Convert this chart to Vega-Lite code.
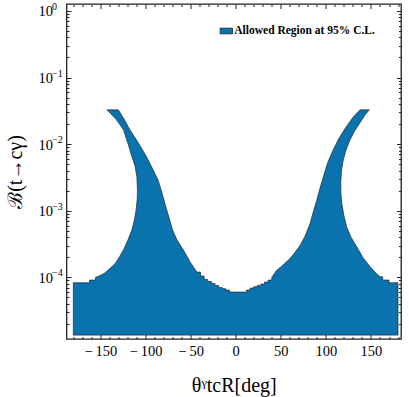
{
  "$schema": "https://vega.github.io/schema/vega-lite/v6.json",
  "width": 334.5,
  "height": 335,
  "autosize": "none",
  "padding": {"left": 66.5, "top": 4, "right": 8, "bottom": 58},
  "background": "white",
  "config": {
    "view": {"stroke": "#222222", "strokeWidth": 1.3},
    "axis": {
      "labelFont": "Liberation Serif",
      "titleFont": "Liberation Serif",
      "labelColor": "black",
      "titleColor": "black",
      "tickColor": "#222222",
      "tickWidth": 1,
      "domain": false,
      "grid": false,
      "titleFontWeight": "normal"
    }
  },
  "data": {
    "values": [
      {"i": 0, "x": -180, "b": 1.361e-5},
      {"i": 1, "x": -180, "b": 8.318e-5},
      {"i": 2, "x": -162, "b": 8.318e-5},
      {"i": 3, "x": -162, "b": 9.12e-5},
      {"i": 4, "x": -155.5, "b": 9.12e-5},
      {"i": 5, "x": -155.5, "b": 1e-4},
      {"i": 6, "x": -150, "b": 1.0715e-4},
      {"i": 7, "x": -144.6, "b": 1.175e-4},
      {"i": 8, "x": -139, "b": 1.38e-4},
      {"i": 9, "x": -133.6, "b": 1.622e-4},
      {"i": 10, "x": -128.8, "b": 2.042e-4},
      {"i": 11, "x": -124.4, "b": 2.588e-4},
      {"i": 12, "x": -119.5, "b": 3.631e-4},
      {"i": 13, "x": -115.1, "b": 5.164e-4},
      {"i": 14, "x": -112.2, "b": 7.413e-4},
      {"i": 15, "x": -110.4, "b": 1.033e-3},
      {"i": 16, "x": -109.2, "b": 1.479e-3},
      {"i": 17, "x": -108.9, "b": 2.061e-3},
      {"i": 18, "x": -109.6, "b": 3.266e-3},
      {"i": 19, "x": -111.6, "b": 4.677e-3},
      {"i": 20, "x": -115.1, "b": 6.516e-3},
      {"i": 21, "x": -119.2, "b": 1e-2},
      {"i": 22, "x": -124.4, "b": 1.641e-2},
      {"i": 23, "x": -133, "b": 2.399e-2},
      {"i": 24, "x": -142.7, "b": 3.273e-2},
      {"i": 25, "x": -130.2, "b": 3.273e-2},
      {"i": 26, "x": -124, "b": 2.399e-2},
      {"i": 27, "x": -117.3, "b": 1.641e-2},
      {"i": 28, "x": -108, "b": 1.047e-2},
      {"i": 29, "x": -99, "b": 6.516e-3},
      {"i": 30, "x": -92.5, "b": 4.365e-3},
      {"i": 31, "x": -86, "b": 2.884e-3},
      {"i": 32, "x": -81.5, "b": 1.82e-3},
      {"i": 33, "x": -77.5, "b": 1.148e-3},
      {"i": 34, "x": -73.5, "b": 7.586e-4},
      {"i": 35, "x": -70, "b": 5.129e-4},
      {"i": 36, "x": -65, "b": 3.631e-4},
      {"i": 37, "x": -58, "b": 2.57e-4},
      {"i": 38, "x": -50, "b": 1.66e-4},
      {"i": 39, "x": -43, "b": 1.202e-4},
      {"i": 40, "x": -39, "b": 1.202e-4},
      {"i": 41, "x": -39, "b": 1.047e-4},
      {"i": 42, "x": -35, "b": 1.047e-4},
      {"i": 43, "x": -35, "b": 9.333e-5},
      {"i": 44, "x": -31, "b": 9.333e-5},
      {"i": 45, "x": -31, "b": 8.71e-5},
      {"i": 46, "x": -27, "b": 8.71e-5},
      {"i": 47, "x": -27, "b": 8.128e-5},
      {"i": 48, "x": -23, "b": 8.128e-5},
      {"i": 49, "x": -23, "b": 7.586e-5},
      {"i": 50, "x": -19, "b": 7.586e-5},
      {"i": 51, "x": -19, "b": 7.079e-5},
      {"i": 52, "x": -15, "b": 7.079e-5},
      {"i": 53, "x": -15, "b": 6.761e-5},
      {"i": 54, "x": -11, "b": 6.761e-5},
      {"i": 55, "x": -11, "b": 6.457e-5},
      {"i": 56, "x": -7, "b": 6.457e-5},
      {"i": 57, "x": -7, "b": 6.026e-5},
      {"i": 58, "x": 12, "b": 6.026e-5},
      {"i": 59, "x": 12, "b": 6.457e-5},
      {"i": 60, "x": 16, "b": 6.457e-5},
      {"i": 61, "x": 16, "b": 6.918e-5},
      {"i": 62, "x": 20, "b": 6.918e-5},
      {"i": 63, "x": 20, "b": 7.244e-5},
      {"i": 64, "x": 24, "b": 7.244e-5},
      {"i": 65, "x": 24, "b": 7.586e-5},
      {"i": 66, "x": 28, "b": 7.586e-5},
      {"i": 67, "x": 28, "b": 7.943e-5},
      {"i": 68, "x": 32, "b": 7.943e-5},
      {"i": 69, "x": 32, "b": 8.511e-5},
      {"i": 70, "x": 36, "b": 8.511e-5},
      {"i": 71, "x": 36, "b": 9.12e-5},
      {"i": 72, "x": 40, "b": 9.12e-5},
      {"i": 73, "x": 40, "b": 1e-4},
      {"i": 74, "x": 45, "b": 1.259e-4},
      {"i": 75, "x": 52, "b": 1.514e-4},
      {"i": 76, "x": 60, "b": 1.905e-4},
      {"i": 77, "x": 66, "b": 2.399e-4},
      {"i": 78, "x": 71.4, "b": 3.02e-4},
      {"i": 79, "x": 77, "b": 4.169e-4},
      {"i": 80, "x": 82.5, "b": 6.457e-4},
      {"i": 81, "x": 86, "b": 9.55e-4},
      {"i": 82, "x": 89.9, "b": 1.445e-3},
      {"i": 83, "x": 93.5, "b": 2.188e-3},
      {"i": 84, "x": 97.2, "b": 3.236e-3},
      {"i": 85, "x": 102, "b": 5.248e-3},
      {"i": 86, "x": 108.3, "b": 8.318e-3},
      {"i": 87, "x": 115, "b": 1.259e-2},
      {"i": 88, "x": 123, "b": 1.862e-2},
      {"i": 89, "x": 130, "b": 2.512e-2},
      {"i": 90, "x": 137.8, "b": 3.273e-2},
      {"i": 91, "x": 148.1, "b": 3.273e-2},
      {"i": 92, "x": 143, "b": 2.692e-2},
      {"i": 93, "x": 137.8, "b": 2.089e-2},
      {"i": 94, "x": 132, "b": 1.585e-2},
      {"i": 95, "x": 126.8, "b": 1.161e-2},
      {"i": 96, "x": 122.5, "b": 8.318e-3},
      {"i": 97, "x": 119.3, "b": 5.821e-3},
      {"i": 98, "x": 117.3, "b": 3.981e-3},
      {"i": 99, "x": 116.5, "b": 2.6e-3},
      {"i": 100, "x": 116.7, "b": 1.82e-3},
      {"i": 101, "x": 117.6, "b": 1.303e-3},
      {"i": 102, "x": 119.8, "b": 8.71e-4},
      {"i": 103, "x": 123, "b": 5.754e-4},
      {"i": 104, "x": 128, "b": 3.981e-4},
      {"i": 105, "x": 134.2, "b": 2.884e-4},
      {"i": 106, "x": 141, "b": 1.995e-4},
      {"i": 107, "x": 149, "b": 1.445e-4},
      {"i": 108, "x": 155, "b": 1.175e-4},
      {"i": 109, "x": 160, "b": 1.023e-4},
      {"i": 110, "x": 163, "b": 1.023e-4},
      {"i": 111, "x": 163, "b": 9.12e-5},
      {"i": 112, "x": 170, "b": 9.12e-5},
      {"i": 113, "x": 170, "b": 8.318e-5},
      {"i": 114, "x": 180, "b": 8.318e-5},
      {"i": 115, "x": 180, "b": 1.361e-5},
      {"i": 116, "x": -180, "b": 1.361e-5}
    ]
  },
  "layer": [
    {
      "mark": {"type": "line", "filled": true, "stroke": "#1c2833", "strokeWidth": 0.7, "interpolate": "linear", "clip": true},
      "encoding": {
        "x": {
          "field": "x", "type": "quantitative",
          "scale": {"domain": [-187.6, 183.3], "nice": false, "zero": false},
          "axis": {
            "orient": "bottom",
            "values": [-180,-170,-160,-150,-140,-130,-120,-110,-100,-90,-80,-70,-60,-50,-40,-30,-20,-10,0,10,20,30,40,50,60,70,80,90,100,110,120,130,140,150,160,170,180],
            "labelExpr": "datum.value % 50 === 0 ? (datum.value < 0 ? '−\u2009' + abs(datum.value) : '' + datum.value) : ''",
            "tickSize": {"condition": {"test": "datum.value % 50 === 0", "value": -4.5}, "value": -2.5},
            "labelFontSize": 14.5,
            "labelPadding": 10,
            "labelFlush": false,
            "labelOverlap": false,
            "title": "θᵞtcR[deg]",
            "titleFontSize": 20,
            "titlePadding": 15
          }
        },
        "y": {
          "field": "b", "type": "quantitative",
          "scale": {"type": "log", "domain": [1.19e-5, 1.27], "nice": false, "zero": false},
          "axis": {
            "orient": "left",
            "values": [0.00002,0.00003,0.00004,0.00005,0.00006,0.00007,0.00008,0.00009,0.0001,0.0002,0.0003,0.0004,0.0005,0.0006,0.0007,0.0008,0.0009,0.001,0.002,0.003,0.004,0.005,0.006,0.007,0.008,0.009,0.01,0.02,0.03,0.04,0.05,0.06,0.07,0.08,0.09,0.1,0.2,0.3,0.4,0.5,0.6,0.7,0.8,0.9,1],
            "labelExpr": "indexof([1, 0.1, 0.01, 0.001, 0.0001], datum.value) >= 0 ? '10' : ''",
            "tickSize": {"condition": {"test": "indexof([1, 0.1, 0.01, 0.001, 0.0001], datum.value) >= 0", "value": -4.5}, "value": -2.5},
            "labelFontSize": 14.5,
            "labelPadding": 18.5,
            "labelOffset": 1,
            "labelFlush": false,
            "labelOverlap": false,
            "title": "ℬ(t→cγ)",
            "titleFontSize": 20,
            "titlePadding": 13
          }
        },
        "order": {"field": "i", "type": "quantitative"},
        "color": {
          "datum": "Allowed Region at 95% C.L.",
          "type": "nominal",
          "scale": {"range": ["#0a72ad"]},
          "legend": {
            "orient": "none",
            "legendX": 152.8,
            "legendY": 20,
            "title": null,
            "padding": 0,
            "symbolType": "M-1,-0.46H1V0.46H-1Z",
            "symbolSize": 154,
            "symbolFillColor": "#0a72ad",
            "symbolStrokeColor": "#1c2833",
            "symbolStrokeWidth": 0.8,
            "symbolOpacity": 1,
            "labelFont": "Liberation Serif",
            "labelFontWeight": "bold",
            "labelFontSize": 11.5,
            "labelOffset": 1,
            "labelColor": "black"
          }
        }
      }
    },
    {
      "mark": {"type": "point", "opacity": 0},
      "encoding": {
        "x": {
          "field": "x", "type": "quantitative",
          "scale": {"domain": [-187.6, 183.3], "nice": false, "zero": false},
          "axis": {
            "orient": "top",
            "values": [-180,-170,-160,-150,-140,-130,-120,-110,-100,-90,-80,-70,-60,-50,-40,-30,-20,-10,0,10,20,30,40,50,60,70,80,90,100,110,120,130,140,150,160,170,180],
            "labels": false,
            "title": null,
            "tickSize": {"condition": {"test": "datum.value % 50 === 0", "value": -4.5}, "value": -2.5}
          }
        },
        "y": {
          "field": "b", "type": "quantitative",
          "scale": {"type": "log", "domain": [1.19e-5, 1.27], "nice": false, "zero": false},
          "axis": {
            "orient": "right",
            "values": [0.00002,0.00003,0.00004,0.00005,0.00006,0.00007,0.00008,0.00009,0.0001,0.0002,0.0003,0.0004,0.0005,0.0006,0.0007,0.0008,0.0009,0.001,0.002,0.003,0.004,0.005,0.006,0.007,0.008,0.009,0.01,0.02,0.03,0.04,0.05,0.06,0.07,0.08,0.09,0.1,0.2,0.3,0.4,0.5,0.6,0.7,0.8,0.9,1],
            "labels": false,
            "title": null,
            "tickSize": {"condition": {"test": "indexof([1, 0.1, 0.01, 0.001, 0.0001], datum.value) >= 0", "value": -4.5}, "value": -2.5}
          }
        }
      }
    },
    {
      "mark": {"type": "point", "opacity": 0},
      "encoding": {
        "x": {
          "field": "x", "type": "quantitative",
          "scale": {"domain": [-187.6, 183.3], "nice": false, "zero": false},
          "axis": null
        },
        "y": {
          "field": "b", "type": "quantitative",
          "scale": {"type": "log", "domain": [1.19e-5, 1.27], "nice": false, "zero": false},
          "axis": {
            "orient": "left",
            "values": [1, 0.1, 0.01, 0.001, 0.0001],
            "labelExpr": "datum.value === 1 ? '0' : datum.value === 0.1 ? '−1' : datum.value === 0.01 ? '−2' : datum.value === 0.001 ? '−3' : '−4'",
            "ticks": false,
            "labelAlign": "left",
            "labelFontSize": 10,
            "labelPadding": 15,
            "labelOffset": -4.5,
            "labelFlush": false,
            "labelOverlap": false,
            "title": null
          }
        }
      }
    }
  ],
  "resolve": {"axis": {"x": "independent", "y": "independent"}}
}
